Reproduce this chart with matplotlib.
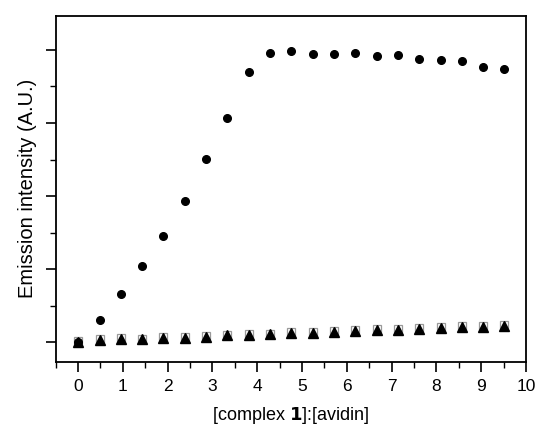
import numpy as np
import matplotlib.pyplot as plt
from matplotlib.ticker import MultipleLocator, NullFormatter

plt.rcParams['font.family'] = ['Liberation Sans', 'DejaVu Sans']

# ratio [complex 1]:[avidin]
ratio = [0, 0.48, 0.95, 1.43, 1.90, 2.38, 2.86, 3.33, 3.81, 4.29, 4.76,
         5.24, 5.71, 6.19, 6.67, 7.14, 7.62, 8.10, 8.57, 9.05, 9.52]

# emission intensity (arbitrary units)
em_circle = [0.0, 0.30, 0.66, 1.05, 1.45, 1.93, 2.51, 3.07, 3.70, 3.96, 3.99,
             3.94, 3.95, 3.955, 3.91, 3.935, 3.88, 3.865, 3.85, 3.77, 3.74]
em_triangle = [0.01, 0.037, 0.045, 0.04, 0.06, 0.064, 0.078, 0.096, 0.10, 0.11, 0.125,
               0.133, 0.146, 0.155, 0.164, 0.169, 0.183, 0.19, 0.205, 0.21, 0.229]
em_square = [0.015, 0.045, 0.052, 0.048, 0.068, 0.073, 0.088, 0.106, 0.11, 0.12, 0.136,
             0.145, 0.158, 0.168, 0.177, 0.182, 0.196, 0.203, 0.218, 0.224, 0.242]

fig = plt.figure(figsize=(5.37, 4.26), dpi=100)
ax = fig.add_axes([0.1037, 0.1502, 0.8758, 0.8134])

ax.plot(ratio, em_square, 's', ms=6, mfc='white', mec='#999999', mew=0.9)
ax.plot(ratio, em_triangle, '^', ms=7.5, color='black')
ax.plot(ratio, em_circle, 'o', ms=5.5, color='black')

ax.set_xlim(-0.5, 10)
ax.set_ylim(-0.27, 4.47)
ax.xaxis.set_major_locator(MultipleLocator(1))
ax.xaxis.set_minor_locator(MultipleLocator(0.5))
ax.yaxis.set_major_locator(MultipleLocator(1))
ax.yaxis.set_minor_locator(MultipleLocator(0.5))
ax.yaxis.set_major_formatter(NullFormatter())

ax.tick_params(which='major', direction='out', length=7, width=1.2, labelsize=12.5)
ax.tick_params(which='minor', direction='out', length=4, width=1.0)
ax.tick_params(axis='x', pad=5)
for s in ax.spines.values():
    s.set_linewidth(1.3)

ax.set_xlabel('[complex $\\mathbf{1}$]:[avidin]', fontsize=13, labelpad=8)
ax.set_ylabel('Emission intensity (A.U.)', fontsize=14.5, labelpad=3)

fig.savefig('out.png', dpi=100)
